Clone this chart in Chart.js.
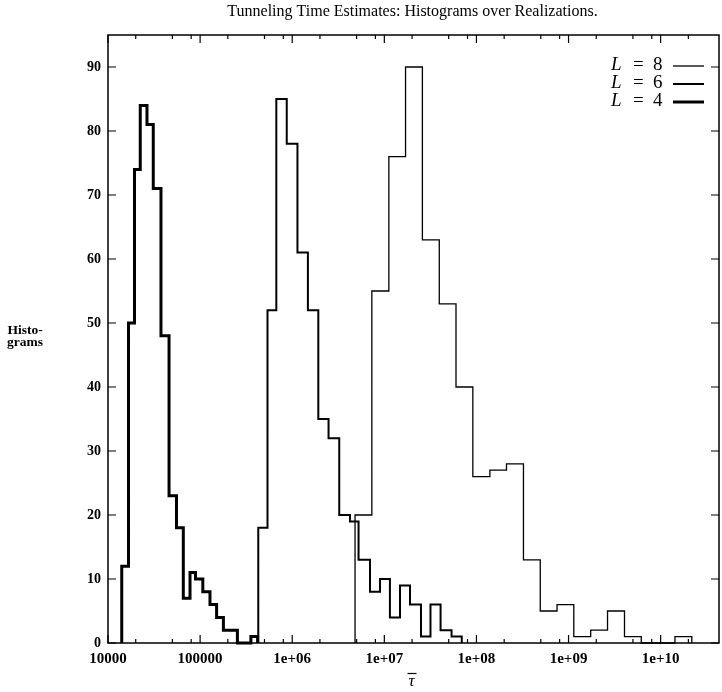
<!DOCTYPE html>
<html>
<head>
<meta charset="utf-8">
<script src="https://cdn.jsdelivr.net/npm/chart.js@4.4.1/dist/chart.umd.min.js"></script>
<style>
  html, body { margin: 0; padding: 0; background: #fff; }
</style>
</head>
<body>
<canvas id="histChart" width="722" height="692"></canvas>
<script>
// bin edges (tau) and counts
const edgesL4 = [1.41e4, 1.67e4, 1.94e4, 2.24e4, 2.65e4, 3.10e4, 3.76e4, 4.60e4, 5.54e4, 6.57e4,
  7.77e4, 8.91e4, 1.07e5, 1.28e5, 1.51e5, 1.79e5, 2.13e5, 2.54e5, 3.00e5, 3.56e5, 4.21e5];
const countsL4 = [12, 50, 74, 84, 81, 71, 48, 23, 18, 7, 11, 10, 8, 6, 4, 2, 2, 0, 0, 1];

const edgesL6 = [4.28e5, 5.39e5, 6.72e5, 8.72e5, 1.14e6, 1.48e6, 1.92e6, 2.48e6, 3.24e6, 4.24e6,
  5.25e6, 6.99e6, 8.98e6, 1.15e7, 1.48e7, 1.90e7, 2.50e7, 3.17e7, 4.08e7, 5.37e7, 6.93e7];
const countsL6 = [18, 52, 85, 78, 61, 52, 35, 32, 20, 19, 13, 8, 10, 4, 9, 6, 1, 6, 2, 1];

const edgesL8 = [4.81e6, 7.32e6, 1.12e7, 1.70e7, 2.59e7, 3.95e7, 6.00e7, 9.14e7, 1.40e8, 2.12e8,
  3.24e8, 4.93e8, 7.50e8, 1.14e9, 1.74e9, 2.65e9, 4.05e9, 6.16e9, 9.37e9, 1.43e10, 2.18e10];
const countsL8 = [20, 55, 76, 90, 63, 53, 40, 26, 27, 28, 13, 5, 6, 1, 2, 5, 1, 0, 0, 1];

const yTicks = [0, 10, 20, 30, 40, 50, 60, 70, 80, 90];
const xTicks = [1e4, 1e5, 1e6, 1e7, 1e8, 1e9, 1e10];
const xTickLabels = ["10000", "100000", "1e+06", "1e+07", "1e+08", "1e+09", "1e+10"];
const xMinorFactors = [2, 5, 8];

const titleText = "Tunneling Time Estimates: Histograms over Realizations.";
const yTitleLines = ["Histo-", "grams"];
const xTitleText = "\u03C4";
const legendNames = ["8", "6", "4"];
const lineWidths = [1.3, 2, 3];

// histogram outline: start on baseline, one point per bin left edge, end on baseline
function stepPoints(edges, counts) {
  const pts = [{ x: edges[0], y: 0 }];
  counts.forEach((c, i) => pts.push({ x: edges[i], y: c }));
  pts.push({ x: edges[edges.length - 1], y: 0 });
  return pts;
}

function histSet(label, edges, counts, width) {
  return {
    label: label,
    data: stepPoints(edges, counts),
    stepped: true,
    borderColor: "#000",
    borderWidth: width,
    pointRadius: 0,
    fill: false,
    clip: 4,
    borderJoinStyle: "miter",
  };
}

const serif = "'Liberation Serif', 'DejaVu Serif', serif";

const framePlugin = {
  id: "gnuplotFrame",
  afterDatasetsDraw(chart) {
    const { ctx, chartArea: a, scales } = chart;
    const x = scales.x, y = scales.y;
    ctx.save();
    ctx.strokeStyle = "#000";
    ctx.lineWidth = 1.5;
    ctx.strokeRect(a.left, a.top, a.right - a.left, a.bottom - a.top);

    ctx.lineWidth = 1.2;
    ctx.beginPath();
    yTicks.forEach((v) => {
      const py = y.getPixelForValue(v);
      ctx.moveTo(a.left, py); ctx.lineTo(a.left + 8, py);
      ctx.moveTo(a.right, py); ctx.lineTo(a.right - 8, py);
    });
    xTicks.forEach((v) => {
      const px = x.getPixelForValue(v);
      ctx.moveTo(px, a.bottom); ctx.lineTo(px, a.bottom - 8);
      ctx.moveTo(px, a.top); ctx.lineTo(px, a.top + 8);
      xMinorFactors.forEach((f) => {
        const m = v * f;
        if (m > x.max) return;
        const pm = x.getPixelForValue(m);
        ctx.moveTo(pm, a.bottom); ctx.lineTo(pm, a.bottom - 4);
        ctx.moveTo(pm, a.top); ctx.lineTo(pm, a.top + 4);
      });
    });
    ctx.stroke();

    // title
    ctx.fillStyle = "#000";
    ctx.textAlign = "center";
    ctx.textBaseline = "middle";
    ctx.font = "16px " + serif;
    ctx.fillText(titleText, (a.left + a.right) / 2 - 1, 12);

    // y title, horizontal
    ctx.font = "bold 13.5px " + serif;
    ctx.fillText(yTitleLines[0], 25, 331);
    ctx.fillText(yTitleLines[1], 25, 343);

    // x title: tau with a bar over it
    const cx = (a.left + a.right) / 2 - 2;
    ctx.font = "italic 17px " + serif;
    ctx.fillText(xTitleText, cx, 682);
    ctx.lineWidth = 1.2;
    ctx.beginPath();
    ctx.moveTo(cx - 4, 673.5);
    ctx.lineTo(cx + 5, 673.5);
    ctx.stroke();

    // legend: label on the left, line sample on the right
    const rows = [65, 83, 101];
    chart.data.datasets.forEach((ds, i) => {
      const ry = rows[i];
      ctx.textAlign = "left";
      ctx.font = "italic 19px " + serif;
      ctx.fillText("L", 611, ry);
      ctx.font = "19px " + serif;
      ctx.fillText("=", 633, ry);
      ctx.fillText(legendNames[i], 653, ry);
      ctx.beginPath();
      ctx.lineWidth = ds.borderWidth;
      ctx.moveTo(673, ry + 1);
      ctx.lineTo(704, ry + 1);
      ctx.stroke();
    });
    ctx.restore();
  },
};

new Chart(document.getElementById("histChart").getContext("2d"), {
  type: "line",
  data: {
    datasets: [
      histSet("L = 8", edgesL8, countsL8, lineWidths[0]),
      histSet("L = 6", edgesL6, countsL6, lineWidths[1]),
      histSet("L = 4", edgesL4, countsL4, lineWidths[2]),
    ],
  },
  options: {
    responsive: false,
    animation: false,
    devicePixelRatio: 1,
    layout: { padding: { top: 35, right: 3, left: 0, bottom: 0 } },
    plugins: {
      legend: { display: false },
      tooltip: { enabled: false },
      title: { display: false },
    },
    scales: {
      x: {
        type: "logarithmic",
        min: 1e4,
        max: 4.3e10,
        afterBuildTicks: (s) => { s.ticks = xTicks.map((v) => ({ value: v })); },
        afterFit: (s) => { s.height = 49; },
        ticks: {
          autoSkip: false,
          maxRotation: 0,
          padding: 7,
          color: "#000",
          font: { family: serif, size: 15, weight: "bold" },
          callback: (v) => xTickLabels[xTicks.indexOf(v)],
        },
        grid: { display: false, drawTicks: false },
        border: { display: false },
      },
      y: {
        type: "linear",
        min: 0,
        max: 95,
        afterBuildTicks: (s) => { s.ticks = yTicks.map((v) => ({ value: v })); },
        afterFit: (s) => { s.width = 108; },
        ticks: {
          padding: 7,
          color: "#000",
          font: { family: serif, size: 14, weight: "bold" },
        },
        grid: { display: false, drawTicks: false },
        border: { display: false },
      },
    },
  },
  plugins: [framePlugin],
});
</script>
</body>
</html>
